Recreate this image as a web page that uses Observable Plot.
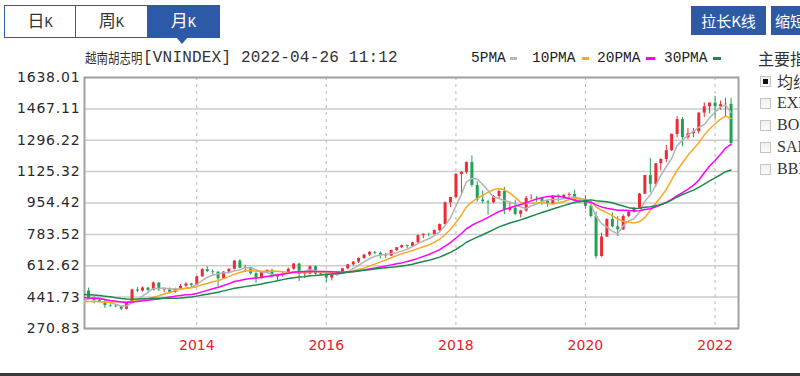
<!DOCTYPE html>
<html><head><meta charset="utf-8">
<script src="https://cdn.jsdelivr.net/npm/d3@7"></script>
<script src="https://cdn.jsdelivr.net/npm/@observablehq/plot@0.6"></script>
<style>
html,body{margin:0;padding:0;background:#fff;}
#wrap{position:relative;width:800px;height:376px;overflow:hidden;background:#fff;font-family:"Noto Sans CJK SC",sans-serif;color:#333;}
#chart{position:absolute;left:0;top:0;}
.abs{position:absolute;white-space:nowrap;}
.tabs{left:4px;top:5px;width:216px;height:33px;border:1.5px solid #2d5ba5;box-sizing:border-box;display:flex;}
.tab{width:72px;height:100%;display:flex;align-items:center;justify-content:center;border-right:1px solid #2d5ba5;box-sizing:border-box;color:#333;}
.tab:last-child{border-right:none;background:#2c5aa6;color:#fff;}
.tab .in{display:inline-block;line-height:20px;white-space:nowrap;}
.tab .c{font-size:17px;}
.tab .k{font-family:"Liberation Mono",monospace;font-size:14px;}
.btn{background:#2d5aa3;color:#fff;font-size:15px;height:29px;line-height:29px;top:6px;}
.leg{font-family:"Liberation Mono",monospace;font-size:14.5px;line-height:15px;top:51px;color:#222;}
.dash{height:3px;top:57px;}
.cb{left:760px;width:11px;height:11px;border:1px solid #c4c4c4;background:linear-gradient(#f0f0f0,#fafafa);box-sizing:border-box;}
.cbt{left:777px;font-family:"Liberation Serif",serif;font-size:16px;line-height:16px;color:#333;}
</style></head>
<body><div id="wrap">
<div id="chart"></div>
<div class="abs tabs">
  <div class="tab"><span class="in"><span class="c">日</span><span class="k">K</span></span></div>
  <div class="tab"><span class="in"><span class="c">周</span><span class="k">K</span></span></div>
  <div class="tab"><span class="in"><span class="c">月</span><span class="k">K</span></span></div>
</div>
<div class="abs" style="left:176px;top:37px;width:0;height:0;border-left:6px solid transparent;border-right:6px solid transparent;border-top:7px solid #2c5aa6;"></div>
<div class="abs" style="left:85px;top:48px;font-size:14px;line-height:18px;color:#333;transform:scaleX(0.82);transform-origin:0 0;">越南胡志明</div>
<div class="abs" style="left:143px;top:49px;font-family:'Liberation Mono',monospace;font-size:16px;line-height:18px;letter-spacing:0.2px;color:#333;">[VNINDEX] 2022-04-26 11:12</div>
<div class="abs leg" style="left:471px;">5PMA</div>
<div class="abs dash" style="left:510px;width:7px;background:#b8b8b8;"></div>
<div class="abs leg" style="left:532px;">10PMA</div>
<div class="abs dash" style="left:582px;width:7px;background:#f9a825;"></div>
<div class="abs leg" style="left:597px;">20PMA</div>
<div class="abs dash" style="left:646px;width:9px;background:#ff00ff;"></div>
<div class="abs leg" style="left:664px;">30PMA</div>
<div class="abs dash" style="left:713px;width:8px;background:#1b8a4a;"></div>
<div class="abs btn" style="left:691px;width:75px;text-align:center;">拉长K线</div>
<div class="abs btn" style="left:771px;width:70px;padding-left:4px;">缩短K线</div>
<div class="abs" style="left:758px;top:50px;font-size:16px;line-height:16px;color:#333;">主要指标</div>
<div class="abs cb" style="top:76px;"><div style="position:absolute;left:2px;top:2px;width:5px;height:5px;background:#111;"></div></div>
<div class="abs" style="left:777px;top:73px;font-size:16px;line-height:16px;color:#333;">均线</div>
<div class="abs cb" style="top:98px;"></div><div class="abs cbt" style="top:95px;">EXPMA</div>
<div class="abs cb" style="top:120px;"></div><div class="abs cbt" style="top:117px;">BOLL</div>
<div class="abs cb" style="top:142px;"></div><div class="abs cbt" style="top:139px;">SAR</div>
<div class="abs cb" style="top:164px;"></div><div class="abs cbt" style="top:161px;">BBI</div>
<div class="abs" style="left:0;top:373px;width:800px;height:3px;background:#3a3a3a;"></div>
</div>
<script>
// Monthly candles, first month 2012-05, last 2022-04
const firstMonth = "2012-05-01";
const open = [
474.9,428.1,422.4,415.2,395.4,392.6,388.6,376.1,
413.7,480.8,474.9,491.0,478.3,518.7,481.1,485.1,467.5,486.0,500.6,513.1,
504.6,552.4,591.6,580.9,577.4,541.2,578.1,593.2,638.4,599.2,601.9,569.6,
545.6,576.1,586.9,551.4,562.6,569.1,593.7,621.8,565.5,568.0,607.5,567.0,
579.0,545.3,560.8,574.0,596.0,617.9,632.3,652.2,670.8,685.4,680.9,667.7,
664.9,695.8,710.8,722.3,717.7,737.8,776.5,783.9,782.3,804.4,837.0,955.1,
984.2,1110.0,1121.5,1174.5,1050.3,970.8,960.8,955.5,989.6,1017.0,914.7,926.0,
892.5,910.9,979.6,982.0,980.8,963.0,949.9,992.0,984.1,996.0,1001.0,963.0,
960.9,936.6,881.1,662.5,769.1,864.5,824.9,808.3,881.0,905.2,925.5,1003.1,
1103.9,1056.1,1168.5,1191.5,1239.4,1328.1,1408.6,1310.1,1331.5,1342.1,1444.3,1478.4,
1498.3,1478.9,1490.1,1492.2];
const high = [
491.0,447.0,432.0,429.0,404.0,398.0,391.0,416.0,
485.0,495.0,498.0,495.0,525.0,520.0,490.0,492.0,490.0,510.0,520.0,517.0,
556.0,598.0,608.0,590.0,582.0,580.0,597.0,640.0,645.0,615.0,605.0,575.0,
580.0,592.0,595.0,566.0,576.0,600.0,625.0,626.0,575.0,612.0,612.0,582.0,
580.0,565.0,576.0,598.0,620.0,635.0,655.0,675.0,690.0,690.0,688.0,680.0,
698.0,712.0,725.0,725.0,740.0,780.0,786.0,790.0,808.0,840.0,960.0,985.0,
1115.0,1125.0,1178.0,1211.0,1070.0,1020.0,970.0,995.0,1025.0,1040.0,955.0,970.0,
915.0,990.0,1000.0,990.0,985.0,970.0,995.0,1000.0,1000.0,1010.0,1025.0,975.0,
995.0,950.0,905.0,790.0,868.0,900.0,880.0,890.0,908.0,930.0,1006.0,1105.0,
1197.0,1170.0,1195.0,1268.0,1330.0,1425.0,1420.0,1360.0,1360.0,1445.0,1500.0,1500.0,
1536.0,1510.0,1525.0,1525.0];
const low = [
424.0,405.0,410.0,380.0,385.0,384.0,368.0,372.0,
410.0,466.0,470.0,470.0,476.0,473.0,465.0,460.0,462.0,484.0,496.0,492.0,
503.0,550.0,575.0,560.0,499.0,540.0,570.0,590.0,595.0,575.0,562.0,517.0,
540.0,570.0,545.0,530.0,550.0,565.0,588.0,527.0,545.0,563.0,561.0,557.0,
520.0,530.0,555.0,567.0,590.0,610.0,625.0,648.0,665.0,672.0,650.0,652.0,
662.0,690.0,705.0,705.0,712.0,735.0,760.0,770.0,780.0,800.0,835.0,930.0,
980.0,1000.0,1110.0,1040.0,960.0,950.0,888.0,950.0,975.0,890.0,905.0,885.0,
873.0,905.0,970.0,958.0,940.0,930.0,945.0,960.0,975.0,985.0,960.0,950.0,
920.0,873.0,649.0,659.0,767.0,820.0,772.0,805.0,873.0,900.0,923.0,1000.0,
1010.0,1040.0,1130.0,1175.0,1235.0,1310.0,1260.0,1300.0,1310.0,1330.0,1420.0,1440.0,
1410.0,1460.0,1425.0,1265.0];
const close = [
428.1,422.4,415.2,395.4,392.6,388.6,376.1,413.7,
480.8,474.9,491.0,478.3,518.7,481.1,485.1,467.5,486.0,500.6,513.1,504.6,
552.4,591.6,580.9,577.4,541.2,578.1,593.2,638.4,599.2,601.9,569.6,545.6,
576.1,586.9,551.4,562.6,569.1,593.7,621.8,565.5,568.0,607.5,567.0,579.0,
545.3,560.8,574.0,596.0,617.9,632.3,652.2,670.8,685.4,680.9,667.7,664.9,
695.8,710.8,722.3,717.7,737.8,776.5,783.9,782.3,804.4,837.0,955.1,984.2,
1110.0,1121.5,1174.5,1050.3,970.8,960.8,955.5,989.6,1017.0,914.7,926.0,892.5,
910.9,979.6,980.8,980.8,963.0,949.9,992.0,984.1,996.0,1001.0,963.0,960.9,
936.6,881.1,662.5,769.1,864.5,824.9,808.3,881.0,905.2,925.5,1003.1,1103.9,
1056.1,1168.5,1191.5,1239.4,1328.1,1408.6,1310.1,1331.5,1342.1,1444.3,1478.4,1498.3,
1478.9,1490.1,1492.2,1278.0];
// Month-end closes before the first candle (2009-12 .. 2012-04), used only for the moving averages
const priorFirstMonth = "2009-12-01";
const priorClose = [494.8,
482.0,496.9,498.1,542.4,505.3,507.1,494.1,445.3,454.4,452.6,448.1,484.7,
509.3,463.6,461.4,480.4,413.9,432.5,408.1,424.2,427.6,424.5,385.5,351.6,
388.0,421.4,451.8,474.9];

const yTicks = [270.83,441.73,612.62,783.52,954.42,1125.32,1296.22,1467.11,1638.01];
const yearTicks = ["2014","2016","2018","2020","2022"];

const maSpecs = [
  {k:5,  color:"#b4b4b4"},
  {k:10, color:"#f9a825"},
  {k:20, color:"#ff00ff"},
  {k:30, color:"#1b8a4a"}
];
const RED = "#ee2a36", GREEN = "#1fa256";

const start = new Date(firstMonth + "T00:00:00Z");
const rows = close.map((c, i) => ({
  date: d3.utcMonth.offset(start, i), open: open[i], high: high[i], low: low[i], close: c
}));
const pstart = new Date(priorFirstMonth + "T00:00:00Z");
const allCloses = [
  ...priorClose.map((c, i) => ({date: d3.utcMonth.offset(pstart, i), close: c})),
  ...rows.map(r => ({date: r.date, close: r.close}))
];
const tickDates = yearTicks.map(y => new Date(y + "-01-01T00:00:00Z"));
const col = d => d.close >= d.open ? RED : GREEN;

const chart = Plot.plot({
  width: 800, height: 376,
  marginLeft: 84, marginRight: 62, marginTop: 77, marginBottom: 48,
  style: {background: "transparent", fontFamily: "DejaVu Sans", fontSize: "14px"},
  x: {type: "utc", domain: [new Date(Date.UTC(2012,3,8)), new Date(Date.UTC(2022,4,13))]},
  y: {domain: [270.83, 1638.01]},
  color: {type: "identity"},
  marks: [
    Plot.gridY(yTicks, {stroke: "#cdcdcd", strokeOpacity: 1, strokeWidth: 1.5}),
    Plot.gridX(tickDates, {stroke: "#b8b8b8", strokeOpacity: 1, strokeDasharray: "3,4"}),
    Plot.frame({stroke: "#a2a2a2", strokeWidth: 2}),
    Plot.axisY(yTicks, {tickFormat: d => d.toFixed(2), tickSize: 0, tickPadding: 4, fontSize: 14, fill: "#2a2a2a", label: null}),
    Plot.axisX(tickDates, {tickFormat: d => String(d.getUTCFullYear()), tickSize: 0, tickPadding: 12, fontSize: 14, fill: "#e62129", label: null}),
    Plot.ruleX(rows, {x: "date", y1: "low", y2: "high", stroke: col, strokeWidth: 1}),
    Plot.ruleX(rows, {x: "date", y1: "open", y2: "close", stroke: col, strokeWidth: 3}),
    ...maSpecs.map(m => Plot.lineY(allCloses, Plot.windowY({k: m.k, anchor: "end"}, {x: "date", y: "close", stroke: m.color, strokeWidth: 1.5, clip: true})))
  ]
});
d3.select(chart).selectAll("g[aria-label='y-axis tick label'] text").style("letter-spacing", "0.8px");
document.getElementById("chart").append(chart);
</script>
</body></html>
